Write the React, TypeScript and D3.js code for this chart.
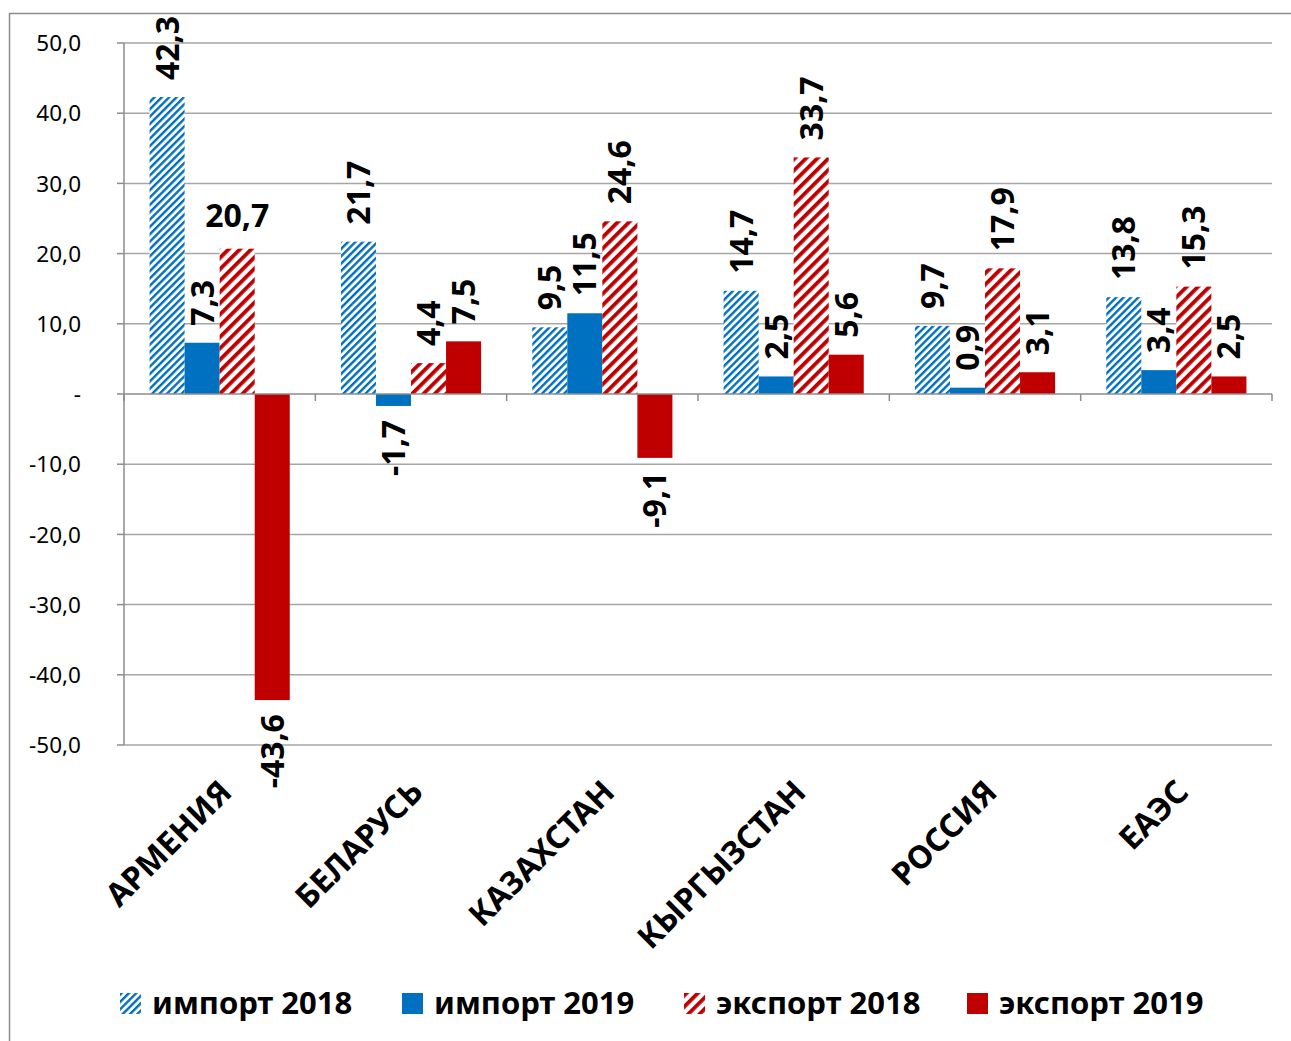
import React, { useRef, useEffect } from 'react';
import * as d3 from 'd3';

const categories = ['АРМЕНИЯ', 'БЕЛАРУСЬ', 'КАЗАХСТАН', 'КЫРГЫЗСТАН', 'РОССИЯ', 'ЕАЭС'];
const seriesNames = ['импорт 2018', 'импорт 2019', 'экспорт 2018', 'экспорт 2019'];
const import2018 = [42.3, 21.7, 9.5, 14.7, 9.7, 13.8];
const import2019 = [7.3, -1.7, 11.5, 2.5, 0.9, 3.4];
const export2018 = [20.7, 4.4, 24.6, 33.7, 17.9, 15.3];
const export2019 = [-43.6, 7.5, -9.1, 5.6, 3.1, 2.5];
const yTicks = [50, 40, 30, 20, 10, 0, -10, -20, -30, -40, -50];
// label of export 2018 over Армения is drawn flat in the original
const flatLabels = ['АРМЕНИЯ|экспорт 2018'];

const FONT = '"Noto Sans", "DejaVu Sans", sans-serif';
const BLUE = '#0070C0';
const RED = '#C00000';

function App() {
    const ref = useRef<SVGSVGElement>(null);

    useEffect(() => {
        const W = 1291;
        const H = 1041;
        const left = 124;
        const right = 1272;
        const top = 43;
        const bottom = 745;

        const svg = d3.select(ref.current);
        svg.selectAll('*').remove();
        svg.attr('width', W).attr('height', H);

        const allSeries = [import2018, import2019, export2018, export2019];
        const fills = ['url(#hatchBlue)', BLUE, 'url(#hatchRed)', RED];

        // patterns
        const defs = svg.append('defs');
        const mkPattern = (id: string, color: string, size: number, stripe: number) => {
            const p = defs
                .append('pattern')
                .attr('id', id)
                .attr('patternUnits', 'userSpaceOnUse')
                .attr('width', size)
                .attr('height', size)
                .attr('patternTransform', 'rotate(45)');
            p.append('rect').attr('width', size).attr('height', size).attr('fill', '#fff');
            p.append('rect').attr('width', stripe).attr('height', size).attr('fill', color);
        };
        mkPattern('hatchBlue', BLUE, 5.2, 2.4);
        mkPattern('hatchRed', RED, 8, 3.8);

        svg.append('rect').attr('width', W).attr('height', H).attr('fill', '#fff');

        // outer frame (cropped at right and bottom)
        svg
            .append('rect')
            .attr('x', 9.5)
            .attr('y', 13.5)
            .attr('width', W + 20)
            .attr('height', H + 20)
            .attr('fill', 'none')
            .attr('stroke', '#8c8c8c')
            .attr('stroke-width', 1.5);

        const x = d3.scaleBand<string>().domain(categories).range([left, right]).padding(0);
        const inner = d3
            .scaleBand<string>()
            .domain(seriesNames)
            .range([0, x.bandwidth()])
            .paddingInner(0)
            .paddingOuter(0.73);
        const y = d3.scaleLinear().domain([-50, 50]).range([bottom, top]);

        // gridlines
        svg
            .append('g')
            .selectAll('line')
            .data(yTicks.filter(d => d !== 0))
            .join('line')
            .attr('x1', left)
            .attr('x2', right)
            .attr('y1', d => y(d))
            .attr('y2', d => y(d))
            .attr('stroke', '#a6a6a6')
            .attr('stroke-width', 1.5);

        // y axis
        svg
            .append('line')
            .attr('x1', left)
            .attr('x2', left)
            .attr('y1', top)
            .attr('y2', bottom)
            .attr('stroke', '#8c8c8c')
            .attr('stroke-width', 1.5);
        svg
            .append('g')
            .selectAll('line')
            .data(yTicks)
            .join('line')
            .attr('x1', left - 7)
            .attr('x2', left)
            .attr('y1', d => y(d))
            .attr('y2', d => y(d))
            .attr('stroke', '#8c8c8c')
            .attr('stroke-width', 1.5);
        svg
            .append('g')
            .selectAll('text')
            .data(yTicks)
            .join('text')
            .attr('x', 81)
            .attr('y', d => y(d))
            .attr('dy', '0.36em')
            .attr('text-anchor', 'end')
            .attr('font-family', FONT)
            .attr('font-size', 22.5)
            .attr('fill', '#000')
            .text(d => (d === 0 ? '-' : d3.format('.1f')(d).replace('.', ',').replace('−', '-')));

        // bars
        categories.forEach((cat, ci) => {
            seriesNames.forEach((s, si) => {
                const v = allSeries[si][ci];
                const bx = (x(cat) as number) + (inner(s) as number);
                svg
                    .append('rect')
                    .attr('x', bx)
                    .attr('y', y(Math.max(0, v)))
                    .attr('width', inner.bandwidth())
                    .attr('height', Math.abs(y(v) - y(0)))
                    .attr('fill', fills[si]);
            });
        });

        // x axis at zero
        svg
            .append('line')
            .attr('x1', left)
            .attr('x2', right)
            .attr('y1', y(0))
            .attr('y2', y(0))
            .attr('stroke', '#8c8c8c')
            .attr('stroke-width', 1.5);
        svg
            .append('g')
            .selectAll('line')
            .data(d3.range(categories.length + 1))
            .join('line')
            .attr('x1', i => left + i * x.step())
            .attr('x2', i => left + i * x.step())
            .attr('y1', y(0))
            .attr('y2', y(0) + 7)
            .attr('stroke', '#8c8c8c')
            .attr('stroke-width', 1.5);

        // value labels
        const fmt = (v: number) => d3.format('.1f')(v).replace('.', ',').replace('−', '-');
        categories.forEach((cat, ci) => {
            seriesNames.forEach((s, si) => {
                const v = allSeries[si][ci];
                const cx = (x(cat) as number) + (inner(s) as number) + inner.bandwidth() / 2;
                if (flatLabels.includes(cat + '|' + s)) {
                    svg
                        .append('text')
                        .attr('x', cx)
                        .attr('y', y(v) - 22)
                        .attr('text-anchor', 'middle')
                        .attr('font-family', FONT)
                        .attr('font-weight', 'bold')
                        .attr('font-size', 32)
                        .text(fmt(v));
                    return;
                }
                const ly = v >= 0 ? y(v) - 17 : y(v) + 14;
                svg
                    .append('text')
                    .attr('transform', `translate(${cx},${ly}) rotate(-90)`)
                    .attr('dy', '0.36em')
                    .attr('text-anchor', v >= 0 ? 'start' : 'end')
                    .attr('font-family', FONT)
                    .attr('font-weight', 'bold')
                    .attr('font-size', 32)
                    .text(fmt(v));
            });
        });

        // category labels
        svg
            .append('g')
            .selectAll('text')
            .data(categories)
            .join('text')
            .attr('transform', d => `translate(${(x(d) as number) + x.bandwidth() / 2 + 14},${y(0) + 400}) rotate(-45)`)
            .attr('text-anchor', 'end')
            .attr('font-family', FONT)
            .attr('font-weight', 'bold')
            .attr('font-size', 32)
            .text(d => d);

        // legend
        const legendX = [120, 402, 684, 967];
        const lg = svg
            .append('g')
            .selectAll('g')
            .data(seriesNames)
            .join('g')
            .attr('transform', (d, i) => `translate(${legendX[i]}, 993)`);
        lg.append('rect')
            .attr('width', 21)
            .attr('height', 21)
            .attr('fill', (d, i) => fills[i]);
        lg.append('text')
            .attr('x', 32)
            .attr('y', 21)
            .attr('font-family', FONT)
            .attr('font-weight', 'bold')
            .attr('font-size', 31)
            .text(d => d);
    }, []);

    return <svg ref={ref} style={{ position: 'absolute', left: 0, top: 0, display: 'block' }} />;
}

export default App;
